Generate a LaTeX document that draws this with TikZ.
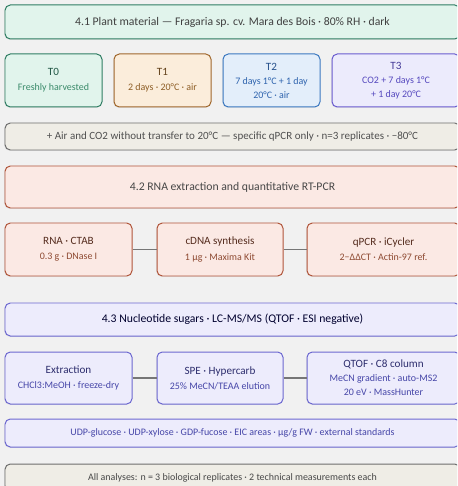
\documentclass[tikz,border=0pt]{standalone}
\usepackage{fontspec}
\setmainfont{Carlito}
\usetikzlibrary{shadows}
\definecolor{bgray}{HTML}{F1F1F1}
\definecolor{grnfill}{HTML}{E1F4EC}
\definecolor{grnline}{HTML}{2F7D63}
\definecolor{grntext}{HTML}{3A8A6A}
\definecolor{brnfill}{HTML}{FBEDDB}
\definecolor{brnline}{HTML}{A0672C}
\definecolor{brntext}{HTML}{8E5E26}
\definecolor{blufill}{HTML}{E3EEFA}
\definecolor{bluline}{HTML}{3B78C0}
\definecolor{blutext}{HTML}{2F64AE}
\definecolor{purfill}{HTML}{ECEBFC}
\definecolor{purline}{HTML}{6A5CD0}
\definecolor{purtext}{HTML}{5548BE}
\definecolor{notefill}{HTML}{EFEDE6}
\definecolor{noteline}{HTML}{6E6E6E}
\definecolor{notetext}{HTML}{505050}
\definecolor{redfill}{HTML}{FBE9E4}
\definecolor{redline}{HTML}{B0553A}
\definecolor{redtext}{HTML}{8E4A32}
\definecolor{lavfill}{HTML}{EDECFC}
\definecolor{lavline}{HTML}{6C68D0}
\definecolor{lavtext}{HTML}{4646A8}
\definecolor{linkgray}{HTML}{767676}

\begin{document}
\begin{tikzpicture}[x=0.03cm, y=-0.03cm, line width=0.85pt,
  box/.style={rounded corners=4.5pt, align=center, inner sep=0pt,
    drop shadow={opacity=0.12, shadow xshift=-0.7pt, shadow yshift=-0.7pt}},
  sub/.style={font=\fontsize{8.5}{10}\selectfont},
  head/.style={font=\fontsize{10}{12}\selectfont},
  link/.style={draw=linkgray, line width=1.3pt}]
  % page and background
  \clip (0,0) rectangle (457,486);
  \fill[bgray] (0,0) rectangle (457,486);
  % 4.1 plant material
  \node[box, head, draw=grnline, fill=grnfill, text=black!75, minimum width=455*0.03cm, minimum height=34*0.03cm]
    (plant) at (232.5,22) {4.1 Plant material — Fragaria sp. cv. Mara des Bois · 80\% RH · dark};
  \node[box, draw=grnline, fill=grnfill, minimum width=97*0.03cm, minimum height=53*0.03cm] (t0) at (53.5,80.5)
    {\fontsize{9.5}{13}\selectfont\color{grnline!70!black}T0\\[1pt]\fontsize{8.5}{10}\selectfont\color{grntext}Freshly harvested};
  \node[box, draw=brnline, fill=brnfill, minimum width=97*0.03cm, minimum height=53*0.03cm] (t1) at (162.5,80.5)
    {\fontsize{9.5}{13}\selectfont\color{brntext!70!black}T1\\[1pt]\fontsize{8.5}{10}\selectfont\color{brntext}2 days · 20°C · air};
  \node[box, draw=bluline, fill=blufill, minimum width=97*0.03cm, minimum height=53*0.03cm] (t2) at (271.5,80.5)
    {\fontsize{9.5}{11}\selectfont\color{blutext!80!black}T2\\\fontsize{8.5}{11}\selectfont\color{blutext}7 days 1°C + 1 day\\\fontsize{8.5}{11}\selectfont\color{blutext}20°C · air};
  \node[box, draw=purline, fill=purfill, minimum width=128*0.03cm, minimum height=53*0.03cm] (t3) at (396,80.5)
    {\fontsize{9.5}{11}\selectfont\color{purtext!80!black}T3\\\fontsize{8.5}{11}\selectfont\color{purtext}CO2 + 7 days 1°C\\\fontsize{8.5}{11}\selectfont\color{purtext}+ 1 day 20°C};
  \node[box, font=\fontsize{9.4}{10}\selectfont, draw=noteline, fill=notefill, text=notetext, minimum width=455*0.03cm, minimum height=27*0.03cm]
    (note) at (232.5,136.5) {+ Air and CO2 without transfer to 20°C — specific qPCR only · n=3 replicates · −80°C};
  % 4.2 RNA and RT-PCR
  \node[box, head, draw=redline, fill=redfill, text=black!72, minimum width=455*0.03cm, minimum height=42*0.03cm]
    (rnahead) at (232.5,187) {4.2 RNA extraction and quantitative RT-PCR};
  \node[box, draw=redline, fill=redfill, minimum width=127*0.03cm, minimum height=53*0.03cm] (rna) at (68.5,249.5)
    {\fontsize{9.5}{13}\selectfont\color{redtext!60!black}RNA · CTAB\\[1pt]\fontsize{8.5}{10}\selectfont\color{redtext}0.3 g · DNase I};
  \node[box, draw=redline, fill=redfill, minimum width=126*0.03cm, minimum height=53*0.03cm] (cdna) at (220,249.5)
    {\fontsize{9.5}{13}\selectfont\color{redtext!60!black}cDNA synthesis\\[1pt]\fontsize{8.5}{10}\selectfont\color{redtext}1 µg · Maxima Kit};
  \node[box, draw=redline, fill=redfill, minimum width=153*0.03cm, minimum height=53*0.03cm] (qpcr) at (383.5,249.5)
    {\fontsize{9.5}{13}\selectfont\color{redtext!60!black}qPCR · iCycler\\[1pt]\fontsize{8.5}{10}\selectfont\color{redtext}2−ΔΔCT · Actin-97 ref.};
  % 4.3 nucleotide sugars
  \node[box, head, draw=lavline, fill=lavfill, text=black!70!blue!60!black, minimum width=455*0.03cm, minimum height=33*0.03cm]
    (sughead) at (232.5,319.5) {4.3 Nucleotide sugars · LC-MS/MS (QTOF · ESI negative)};
  \node[box, draw=lavline, fill=lavfill, minimum width=127*0.03cm, minimum height=52*0.03cm] (extr) at (68.5,378)
    {\fontsize{9.5}{13}\selectfont\color{lavtext!65!black}Extraction\\[1pt]\fontsize{8.5}{10}\selectfont\color{lavtext}CHCl3:MeOH · freeze-dry};
  \node[box, draw=lavline, fill=lavfill, minimum width=126*0.03cm, minimum height=52*0.03cm] (spe) at (220,378)
    {\fontsize{9.5}{13}\selectfont\color{lavtext!65!black}SPE · Hypercarb\\[1pt]\fontsize{8.5}{10}\selectfont\color{lavtext}25\% MeCN/TEAA elution};
  \node[box, draw=lavline, fill=lavfill, minimum width=153*0.03cm, minimum height=52*0.03cm] (qtof) at (383.5,378)
    {\fontsize{9.5}{11.5}\selectfont\color{lavtext!65!black}QTOF · C8 column\\\fontsize{8.5}{11}\selectfont\color{lavtext}MeCN gradient · auto-MS2\\\fontsize{8.5}{11}\selectfont\color{lavtext}20 eV · MassHunter};
  \node[box, sub, draw=lavline, fill=lavfill, text=lavtext, minimum width=455*0.03cm, minimum height=28*0.03cm]
    (udp) at (232.5,433) {UDP-glucose · UDP-xylose · GDP-fucose · EIC areas · µg/g FW · external standards};
  \node[box, sub, draw=noteline, fill=notefill, text=notetext!90!black, minimum width=455*0.03cm, minimum height=27*0.03cm]
    (allrep) at (232.5,477.5) {All analyses: n = 3 biological replicates · 2 technical measurements each};
  % links between steps
  \foreach \p/\q in {rna/cdna,cdna/qpcr,extr/spe,spe/qtof}{ \draw[link] (\p) -- (\q); }
\end{tikzpicture}
\end{document}
